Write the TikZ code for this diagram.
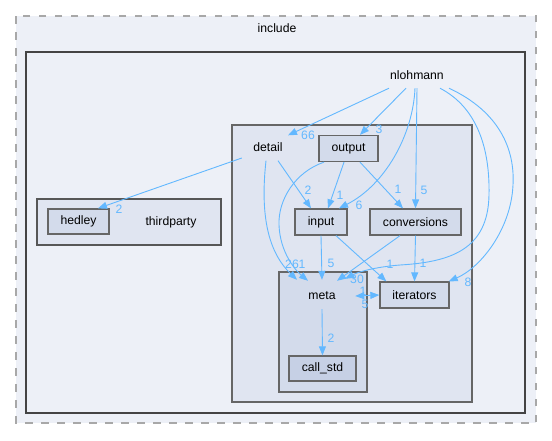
\documentclass[tikz,border=0pt]{standalone}
\usepackage{fontspec}
\setmainfont{Liberation Sans}
\usetikzlibrary{arrows.meta,calc}
\definecolor{edgec}{HTML}{63B8FF}
\definecolor{c0}{HTML}{EDF0F7}
\definecolor{c1}{HTML}{E0E5F1}
\definecolor{c2}{HTML}{D3DBEB}
\definecolor{c3}{HTML}{C6D0E5}
\definecolor{bord}{HTML}{666666}
\definecolor{dashc}{HTML}{A8A8A8}
\definecolor{thick}{HTML}{444444}
\begin{document}
\begin{tikzpicture}[x=1pt,y=-1pt,
  txt/.style={font=\fontsize{12.2}{14}\selectfont, inner sep=0pt},
  plain/.style={txt, minimum height=26pt},
  dirbox/.style={txt, draw=bord, line width=1.3pt, minimum height=26pt},
  lbl/.style={font=\fontsize{12.2}{14}\selectfont, text=edgec, inner sep=0pt},
  edge/.style={draw=edgec, line width=0.9pt, -{Triangle[length=9pt,width=7pt]}},
  cluster/.style={draw=bord, line width=1.3pt},
  ]
\useasboundingbox (0,0) rectangle (552,440);
\fill[white] (0,0) rectangle (552,440);
% clusters
\draw[fill=c0, draw=dashc, line width=1.6pt, dash pattern=on 7.5pt off 8.5pt] (16,16) rectangle (536,423);
\draw[fill=c0, draw=thick, line width=2.2pt] (26,52) rectangle (525,413);
\draw[cluster, fill=c1] (232,125) rectangle (472,402);
\draw[cluster, fill=c2] (279,272) rectangle (367,392);
\draw[cluster, fill=c1, draw=thick!90] (37,199) rectangle (221,245);
% labels of clusters
\node[txt] (inc) at (277,28) {include};
\node[plain, minimum width=62pt] (nl) at (417,75) {nlohmann};
\node[plain, minimum width=52pt, minimum height=27pt] (dt) at (268,147) {detail};
\node[plain, minimum width=66pt] (mt) at (322,296) {meta};
\node[txt] (tp) at (171,222) {thirdparty};
% directory nodes
\node[dirbox, fill=c2, minimum width=59pt] (op) at (348.5,148.5) {output};
\node[dirbox, fill=c2, minimum width=52pt] (ip) at (321,222) {input};
\node[dirbox, fill=c2, minimum width=91pt] (cv) at (415.5,222) {conversions};
\node[dirbox, fill=c2, minimum width=69pt] (it) at (414.5,295) {iterators};
\node[dirbox, fill=c3, minimum width=67pt, minimum height=25pt] (cs) at (322.5,368.5) {call\_std};
\node[dirbox, fill=c2, minimum width=61pt, minimum height=25pt] (hd) at (78.5,221.5) {hedley};
% edges from nlohmann
\draw[edge] ($(nl.south)+(-28,0)$) -- ($(dt.north)+(20,2)$);
\node[lbl] (l1) at (308,135) {66};
\draw[edge] ($(nl.south)+(-11,0)$) -- ($(op.north)+(11.5,0)$);
\node[lbl] (l2) at (379,129) {3};
\draw[edge] ($(nl.south)+(-2,0)$) .. controls (413,135) and (385,185) .. ($(ip.north)+(18,0)$);
\node[lbl] (l3) at (359,205) {6};
\draw[edge] (nl.south) -- (cv.north);
\node[lbl] (l4) at (424,190) {5};
\draw[edge] ($(nl.south)+(23,0)$) .. controls (478,108) and (490,150) .. (489,195) .. controls (488,250) and (450,262) .. (400,265) .. controls (375,267) and (358,272) .. ($(mt.north east)+(-10,-4)$);
\node[lbl] (l5) at (357,279) {30};
\draw[edge] ($(nl.south)+(32,0)$) .. controls (500,112) and (515,150) .. (513,185) .. controls (511,230) and (480,268) .. ($(it.north east)+(-1,0)$);
\node[lbl] (l6) at (468,282) {8};
% edges from detail
\draw[edge] ($(dt.west)+(0,11)$) -- ($(hd.north)+(19.5,0)$);
\node[lbl] (l7) at (119,209) {2};
\draw[edge] ($(dt.south)+(10,0)$) -- ($(ip.north)+(-10,0)$);
\node[lbl] (l8) at (308,190) {2};
\draw[edge] ($(dt.south)+(-2,0)$) .. controls (260,215) and (268,252) .. ($(mt.north)+(-25,-3)$);
\node[lbl] (l9) at (292,264) {26};
% edges from output
\draw[edge] ($(op.south)+(-4.5,0)$) -- ($(ip.north)+(7,0)$);
\node[lbl] (l10) at (340,195) {1};
\draw[edge] ($(op.south)+(11.5,0)$) -- ($(cv.north)+(-12.5,0)$);
\node[lbl] (l11) at (398,189) {1};
\draw[edge] ($(op.south)+(-24.5,0)$) .. controls (295,172) and (278,200) .. (279,225) .. controls (280,252) and (295,270) .. ($(mt.north)+(-14,-2)$);
\node[lbl] (l12) at (302,264) {1};
% edges from input
\draw[edge] (ip.south) -- ($(mt.north)+(0,-3)$);
\node[lbl] (l13) at (331,263) {5};
\draw[edge] ($(ip.south)+(15,0)$) -- ($(it.north west)+(7,0)$);
\node[lbl] (l14) at (390,264) {1};
% edges from conversions
\draw[edge] ($(cv.south)+(-15.5,0)$) -- ($(mt.north)+(15,-2)$);
\draw[edge] (cv.south) -- (it.north);
\node[lbl] (l16) at (423,263) {1};
% meta <-> iterators
\draw[draw=edgec, line width=0.9pt, {Triangle[length=9pt,width=7pt]}-{Triangle[length=9pt,width=7pt]}] (mt.east) -- (it.west);
\node[lbl] (l17) at (363,291) {1};
\node[lbl] (l18) at (365,304) {5};
% meta -> call_std
\draw[edge] (mt.south) -- (cs.north);
\node[lbl] (l19) at (331,338) {2};
\end{tikzpicture}
\end{document}
